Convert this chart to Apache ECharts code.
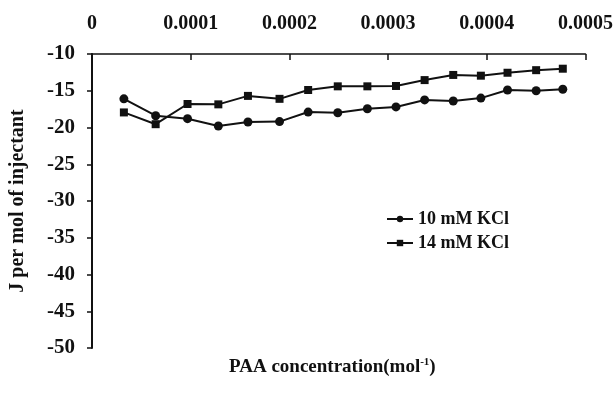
<!DOCTYPE html>
<html>
<head>
<meta charset="utf-8">
<script src="https://cdn.jsdelivr.net/npm/echarts@6/dist/echarts.min.js"></script>
<style>
html,body{margin:0;padding:0;background:#fff;}
#chart{width:616px;height:398px;}
</style>
</head>
<body>
<div id="chart"></div>
<script>
// PAA concentration after each injection
var concentration = [0.0000323, 0.0000645, 0.0000968, 0.000128, 0.000158, 0.000190, 0.000219, 0.000249,
  0.000279, 0.000308, 0.000337, 0.000366, 0.000394, 0.000421, 0.000450, 0.000477];
// J per mol of injectant
var kcl10 = [-16.1, -18.4, -18.8, -19.8, -19.25, -19.2, -17.9, -18.0,
  -17.45, -17.2, -16.25, -16.4, -16.0, -14.9, -15.0, -14.8];
var kcl14 = [-17.95, -19.55, -16.8, -16.85, -15.7, -16.1, -14.9, -14.4,
  -14.4, -14.35, -13.55, -12.85, -12.95, -12.55, -12.2, -12.0];
var seriesNames = ['10 mM KCl', '14 mM KCl'];
var xTickLabels = ['0', '0.0001', '0.0002', '0.0003', '0.0004', '0.0005'];

var serif = '"Liberation Serif", "Times New Roman", serif';
var ink = '#111';

function pairs(ys){
  return concentration.map(function(x, i){ return [x, ys[i]]; });
}

var chart = echarts.init(document.getElementById('chart'));
chart.setOption({
  backgroundColor: '#fff',
  animation: false,
  grid: {left: 90, right: 30, top: 54, bottom: 50},
  title: {
    text: '{a|PAA concentration(mol}{s|-1}{a|)}',
    left: 224,
    top: 352,
    textStyle: {
      rich: {
        a: {fontFamily: serif, fontSize: 19, fontWeight: 'bold', color: ink},
        s: {fontFamily: serif, fontSize: 11, fontWeight: 'bold', color: ink, verticalAlign: 'top', padding: [0, 0, 10, 0]}
      }
    }
  },
  legend: {
    orient: 'vertical',
    left: 381,
    top: 205,
    itemWidth: 26,
    itemHeight: 8,
    itemGap: 6,
    data: seriesNames,
    textStyle: {fontFamily: serif, fontSize: 18, fontWeight: 'bold', color: ink}
  },
  xAxis: {
    type: 'value',
    position: 'top',
    min: 0,
    max: 0.0005,
    interval: 0.0001,
    splitLine: {show: false},
    axisLine: {lineStyle: {color: ink, width: 1.5}},
    axisTick: {inside: true, length: 6, lineStyle: {color: ink, width: 1.5}},
    axisLabel: {
      margin: 20,
      fontFamily: serif, fontSize: 20, fontWeight: 'bold', color: ink,
      formatter: function(v){ return xTickLabels[Math.round(v / 0.0001)]; }
    }
  },
  yAxis: {
    type: 'value',
    min: -50,
    max: -10,
    interval: 5,
    splitLine: {show: false},
    axisLine: {show: true, lineStyle: {color: ink, width: 2}},
    axisTick: {show: true, length: 5, lineStyle: {color: ink, width: 1.5}},
    axisLabel: {margin: 17, fontFamily: serif, fontSize: 21, fontWeight: 'bold', color: ink},
    name: 'J per mol of injectant',
    nameLocation: 'middle',
    nameGap: 64,
    nameTextStyle: {fontFamily: serif, fontSize: 20, fontWeight: 'bold', color: ink}
  },
  series: [
    {
      name: seriesNames[0],
      type: 'line',
      data: pairs(kcl10),
      symbol: 'circle',
      symbolSize: 9,
      lineStyle: {color: ink, width: 2},
      itemStyle: {color: ink}
    },
    {
      name: seriesNames[1],
      type: 'line',
      data: pairs(kcl14),
      symbol: 'rect',
      symbolSize: 8,
      lineStyle: {color: ink, width: 2},
      itemStyle: {color: ink}
    }
  ]
});
</script>
</body>
</html>
